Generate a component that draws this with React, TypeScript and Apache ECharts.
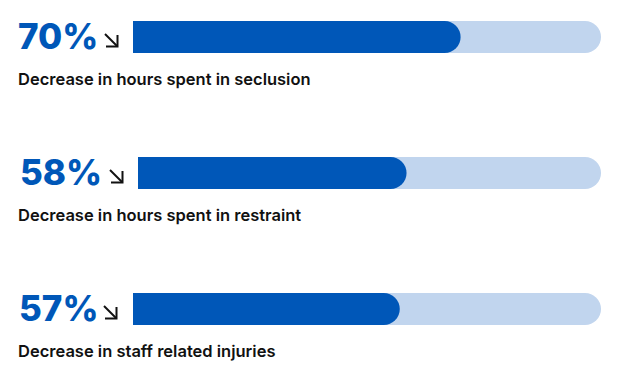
import React, { useEffect, useRef } from "react";
import * as echarts from "echarts";

const categories = [
  "Decrease in hours spent in seclusion",
  "Decrease in hours spent in restraint",
  "Decrease in staff related injuries",
];
const values = [70, 58, 57];
const maxValue = 100;

const BLUE = "#0057b8";
const TRACK = "#c1d5ee";
const DARK = "#111111";

// layout per row (positions only)
const rowTop = [21, 157, 293];
const barLeft = [133, 138, 133];
const numLeft = [18, 20, 19];
const arrowLeft = [104, 109, 103];
const BAR_H = 32;

export default function App() {
  const ref = useRef<HTMLDivElement>(null);
  useEffect(() => {
    if (!ref.current) return;
    const chart = echarts.init(ref.current, undefined, { renderer: "svg" });
    const grids = values.map((_, i) => ({
      left: barLeft[i],
      right: 23,
      top: rowTop[i],
      height: BAR_H,
    }));
    const xAxes = values.map((_, i) => ({
      type: "value" as const,
      gridIndex: i,
      min: 0,
      max: maxValue,
      show: false,
    }));
    const yAxes = values.map((_, i) => ({
      type: "category" as const,
      gridIndex: i,
      data: [categories[i]],
      show: false,
    }));
    const series = values.map((v, i) => ({
      type: "bar" as const,
      xAxisIndex: i,
      yAxisIndex: i,
      data: [v],
      barWidth: BAR_H,
      showBackground: true,
      backgroundStyle: { color: TRACK, borderRadius: [0, 16, 16, 0] },
      itemStyle: { color: BLUE, borderRadius: [0, 16, 16, 0] },
      silent: true,
    }));
    const graphic: any[] = [];
    values.forEach((v, i) => {
      const cy = rowTop[i] + BAR_H / 2;
      graphic.push({
        type: "text",
        left: numLeft[i],
        top: cy - 19,
        style: {
          text: `${v}%`,
          font: "800 35px Inter",
          fill: BLUE,
        },
      });
      const ax = arrowLeft[i];
      const ay = cy - 3;
      graphic.push({
        type: "line",
        shape: { x1: ax + 1, y1: ay, x2: ax + 13, y2: ay + 12 },
        style: { stroke: DARK, lineWidth: 2 },
      });
      graphic.push({
        type: "polyline",
        shape: {
          points: [
            [ax + 2, ay + 12.5],
            [ax + 13.5, ay + 12.5],
            [ax + 13.5, ay + 1],
          ],
        },
        style: { stroke: DARK, lineWidth: 2, fill: null },
      });
      graphic.push({
        type: "text",
        left: 18,
        top: rowTop[i] + 49,
        style: {
          text: categories[i],
          font: "600 16.5px Inter",
          fill: DARK,
        },
      });
    });
    chart.setOption({
      animation: false,
      grid: grids,
      xAxis: xAxes,
      yAxis: yAxes,
      series,
      graphic,
    });
    return () => chart.dispose();
  }, []);
  return <div ref={ref} style={{ width: 624, height: 388, margin: -8 }} />;
}
